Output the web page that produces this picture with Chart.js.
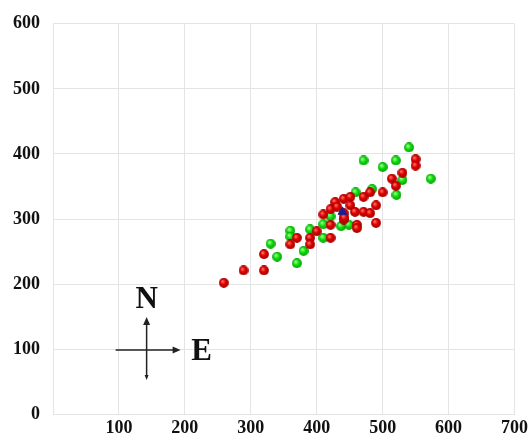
<!DOCTYPE html>
<html>
<head>
<meta charset="utf-8">
<script src="https://cdn.jsdelivr.net/npm/chart.js@4.4.1/dist/chart.umd.min.js"></script>
<style>
  html, body { margin: 0; padding: 0; background: #fff; }
  #wrap { width: 531px; height: 438px; }
</style>
</head>
<body>
<div id="wrap"><canvas id="chart" width="531" height="438"></canvas></div>
<script>
// red group
var redX = [259, 289, 320, 320, 360, 370, 390, 390, 400, 410, 421, 421, 421, 428, 431, 441, 441, 441,
            451, 451, 458, 461, 461, 471, 471, 481, 481, 490, 490, 500, 514, 520, 530, 550, 550, 442];
var redY = [202, 221, 221, 246, 261, 271, 271, 261, 281, 307, 291, 271, 315, 326, 319, 331, 309, 299,
            334, 321, 311, 291, 286, 334, 311, 341, 309, 321, 294, 341, 362, 351, 371, 392, 382, 302];
// green group
var greenX = [330, 340, 360, 360, 370, 380, 390, 410, 410, 421, 437, 449, 459, 471, 484, 500, 520, 530, 521, 540, 573];
var greenY = [262, 242, 282, 273, 232, 251, 284, 292, 271, 304, 289, 291, 341, 390, 346, 380, 390, 360, 337, 410, 362];
// centre marker
var centerX = [439];
var centerY = [311];

var xTicks = [0, 100, 200, 300, 400, 500, 600, 700];
var yTicks = [0, 100, 200, 300, 400, 500, 600];

function toPoints(xs, ys) {
  var pts = [];
  for (var i = 0; i < xs.length; i++) {
    pts.push({x: xs[i], y: ys[i]});
  }
  return pts;
}

// little shaded ball used as point style
function makeBall(light, mid, dark) {
  var c = document.createElement('canvas');
  c.width = 10; c.height = 10;
  var g = c.getContext('2d');
  var grad = g.createRadialGradient(3.6, 3.4, 0.5, 5, 5, 5);
  grad.addColorStop(0, light);
  grad.addColorStop(0.45, mid);
  grad.addColorStop(1, dark);
  g.fillStyle = grad;
  g.beginPath();
  g.arc(5, 5, 4.9, 0, Math.PI * 2);
  g.fill();
  return c;
}

var redBall = makeBall('#ff7060', '#e00000', '#a00000');
var greenBall = makeBall('#a0ff90', '#10e010', '#00a000');

var gridColor = '#e4e4e4';
var tickFont = {family: "'Liberation Serif', 'Times New Roman', serif", size: 18, weight: 'bold'};

// north / east arrows drawn in the lower left
var compass = {
  id: 'compass',
  afterDraw: function(chart) {
    var ctx = chart.ctx;
    var cx = chart.scales.x.getPixelForValue(142);
    var cy = chart.scales.y.getPixelForValue(98.5);
    ctx.save();
    ctx.strokeStyle = '#222';
    ctx.fillStyle = '#222';
    ctx.lineWidth = 1.5;
    ctx.beginPath();
    ctx.moveTo(cx, cy - 28);
    ctx.lineTo(cx, cy + 27);
    ctx.moveTo(cx - 31, cy);
    ctx.lineTo(cx + 28, cy);
    ctx.stroke();
    // up arrow
    ctx.beginPath();
    ctx.moveTo(cx, cy - 33);
    ctx.lineTo(cx - 3.5, cy - 25);
    ctx.lineTo(cx + 3.5, cy - 25);
    ctx.closePath();
    ctx.fill();
    // right arrow
    ctx.beginPath();
    ctx.moveTo(cx + 34, cy);
    ctx.lineTo(cx + 26, cy - 3.5);
    ctx.lineTo(cx + 26, cy + 3.5);
    ctx.closePath();
    ctx.fill();
    // small tip at bottom
    ctx.beginPath();
    ctx.moveTo(cx, cy + 30);
    ctx.lineTo(cx - 2, cy + 25);
    ctx.lineTo(cx + 2, cy + 25);
    ctx.closePath();
    ctx.fill();
    ctx.font = "bold 31px 'Liberation Serif', 'Times New Roman', serif";
    ctx.textAlign = 'center';
    ctx.textBaseline = 'middle';
    ctx.fillStyle = '#111';
    ctx.fillText('N', cx, cy - 50);
    ctx.fillText('E', cx + 55, cy + 2);
    ctx.restore();
  }
};

new Chart(document.getElementById('chart'), {
  type: 'scatter',
  data: {
    datasets: [
      {
        label: 'centre',
        data: toPoints(centerX, centerY),
        pointStyle: 'triangle',
        pointRadius: 5,
        backgroundColor: '#1c1c96',
        borderColor: '#1c1c96',
        borderWidth: 1,
        order: 0
      },
      {
        label: 'red',
        data: toPoints(redX, redY),
        pointStyle: redBall,
        pointRadius: 5,
        order: 1
      },
      {
        label: 'green',
        data: toPoints(greenX, greenY),
        pointStyle: greenBall,
        pointRadius: 5,
        order: 2
      }
    ]
  },
  plugins: [compass],
  options: {
    responsive: false,
    animation: false,
    layout: {padding: {top: 20, right: 15, bottom: 0, left: 0}},
    plugins: {
      legend: {display: false},
      tooltip: {enabled: false}
    },
    scales: {
      x: {
        type: 'linear',
        min: xTicks[0],
        max: xTicks[xTicks.length - 1],
        afterBuildTicks: function(scale) {
          scale.ticks = xTicks.map(function(v) { return {value: v}; });
        },
        afterFit: function(scale) { scale.height = 20; },
        grid: {color: gridColor, drawTicks: false},
        border: {color: gridColor},
        ticks: {
          padding: 3,
          color: '#111',
          font: tickFont,
          maxRotation: 0,
          callback: function(v) { return v === 0 ? '' : String(v); }
        }
      },
      y: {
        min: yTicks[0],
        max: yTicks[yTicks.length - 1],
        afterBuildTicks: function(scale) {
          scale.ticks = yTicks.map(function(v) { return {value: v}; });
        },
        afterFit: function(scale) { scale.width = 53; },
        grid: {color: gridColor, drawTicks: false},
        border: {color: gridColor},
        ticks: {
          padding: 13,
          color: '#111',
          font: tickFont
        }
      }
    }
  }
});
</script>
</body>
</html>
